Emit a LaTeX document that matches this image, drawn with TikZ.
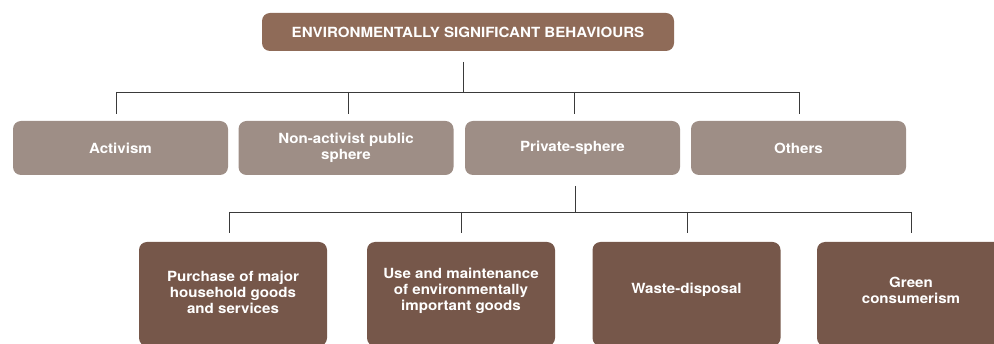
\documentclass[tikz,border=0pt]{standalone}
\usepackage{fontspec}
\setmainfont[FakeStretch=1.08]{TeX Gyre Heros}
\definecolor{topbrown}{HTML}{8F6B58}
\definecolor{midgrey}{HTML}{9E8E86}
\definecolor{darkbrown}{HTML}{76574A}
\definecolor{linegrey}{HTML}{3A3A3A}
\begin{document}
\begin{tikzpicture}[x=1pt,y=-1pt,
  box/.style={rectangle, rounded corners=8pt, draw=none, text=white,
    font=\fontsize{14}{16}\selectfont\bfseries, align=center, inner sep=0pt},
  topbox/.style={box, fill=topbrown, minimum width=412pt, minimum height=38pt},
  midbox/.style={box, fill=midgrey, minimum width=215pt, minimum height=54pt},
  lowbox/.style={box, fill=darkbrown, minimum width=188pt, minimum height=104pt},
  lowtext/.style={box, fill=none},
  conn/.style={draw=linegrey, line width=0.9pt}]
\useasboundingbox (0,0) rectangle (994,344);
\clip (0,0) rectangle (994,344);
% top
\node[topbox] (top) at (468,32) {ENVIRONMENTALLY SIGNIFICANT BEHAVIOURS};
% middle row
\node[midbox] (act) at (120.5,148) {Activism};
\node[midbox] (non) at (346,148) {Non-activist public\\sphere};
\node[midbox] (priv) at (572.5,148) {Private-sphere};
\node[midbox] (oth) at (798.5,148) {Others};
% bottom row
\node[lowbox] (pur) at (233,294) {};
\node[lowbox] (use) at (461,294) {};
\node[lowbox] (was) at (686.5,294) {};
\node[lowbox] (gre) at (911,294) {};
\node[lowtext] (purt) at ([yshift=2pt]pur.center) {Purchase of major\\household goods\\and services};
\node[lowtext] (uset) at ([yshift=3pt]use.center) {Use and maintenance\\of environmentally\\important goods};
\node[lowtext] (wast) at ([yshift=4pt]was.center) {Waste-disposal};
\node[lowtext] (gret) at ([yshift=4pt]gre.center) {Green\\consumerism};
% connectors level 1
\coordinate (t0) at (463,62);
\coordinate (t1) at (463,92);
\coordinate (h1) at (116,92);
\coordinate (h2) at (348,92);
\coordinate (h3) at (574,92);
\coordinate (h4) at (799,92);
\draw[conn] (t0) -- (t1);
\draw[conn] (h1) -- (h4);
\draw[conn] (h1) -- (h1 |- 0,114);
\draw[conn] (h2) -- (h2 |- 0,114);
\draw[conn] (h3) -- (h3 |- 0,114);
\draw[conn] (h4) -- (h4 |- 0,114);
% connectors level 2
\coordinate (p0) at (575,186);
\coordinate (p1) at (575,212);
\coordinate (g1) at (229,212);
\coordinate (g2) at (461,212);
\coordinate (g3) at (687,212);
\coordinate (g4) at (911,212);
\draw[conn] (p0) -- (p1);
\draw[conn] (g1) -- (g4);
\draw[conn] (g1) -- (g1 |- 0,233);
\draw[conn] (g2) -- (g2 |- 0,233);
\draw[conn] (g3) -- (g3 |- 0,233);
\draw[conn] (g4) -- (g4 |- 0,233);
\end{tikzpicture}
\end{document}
